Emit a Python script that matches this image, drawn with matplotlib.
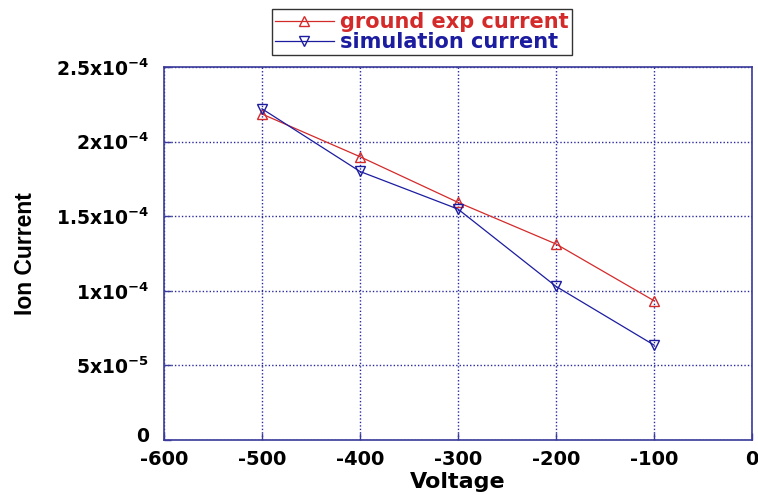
import matplotlib
matplotlib.use("Agg")
import matplotlib.pyplot as plt
import matplotlib.transforms as mtransforms
from matplotlib.ticker import FixedLocator, FixedFormatter

plt.rcParams['font.family'] = ['DejaVu Sans']
plt.rcParams['mathtext.fontset'] = 'dejavusans'

voltage = [-500, -400, -300, -200, -100]
ground_exp = [2.185e-4, 1.899e-4, 1.593e-4, 1.314e-4, 9.34e-5]
simulation = [2.22e-4, 1.80e-4, 1.548e-4, 1.03e-4, 6.37e-5]

xticks = [-600, -500, -400, -300, -200, -100, 0]
yticks = [0, 5e-5, 1e-4, 1.5e-4, 2e-4, 2.5e-4]
ytick_labels = ['0', r'$\mathbf{5x10^{-5}}$', r'$\mathbf{1x10^{-4}}$',
                r'$\mathbf{1.5x10^{-4}}$', r'$\mathbf{2x10^{-4}}$', r'$\mathbf{2.5x10^{-4}}$']

red = '#d42a2a'
blue = '#1c1ca0'
axis_col = '#3a3a9a'

fig = plt.figure(figsize=(7.58, 4.95), dpi=100)
ax = fig.add_axes([0.2164, 0.111, 0.7756, 0.7536])

l1, = ax.plot(voltage, ground_exp, color=red, lw=0.9, marker='^', ms=7,
              mfc='none', mec=red, mew=1.0, label='ground exp current')
l2, = ax.plot(voltage, simulation, color=blue, lw=0.9, marker='v', ms=7,
              mfc='none', mec=blue, mew=1.0, label='simulation current')

ax.set_xlim(-600, 0)
ax.set_ylim(0, 2.5e-4)
ax.xaxis.set_major_locator(FixedLocator(xticks))
ax.set_xticklabels([str(t) for t in xticks])
ax.yaxis.set_major_locator(FixedLocator(yticks))
ax.yaxis.set_major_formatter(FixedFormatter(ytick_labels))

ax.grid(True, color='#2a2aa0', linestyle=(0, (1, 1.5)), linewidth=1.0)
for s in ax.spines.values():
    s.set_color(axis_col)
    s.set_linewidth(1.2)
ax.tick_params(direction='in', length=5, color=axis_col, width=1.0,
               top=False, right=False)
ax.tick_params(axis='x', pad=7, labelsize=14)
ax.tick_params(axis='y', pad=11, labelsize=13.5)
for lab in ax.get_xticklabels() + ax.get_yticklabels():
    lab.set_fontweight('bold')

# nudge the "0" y tick label slightly upward, as in the reference
zero_lab = ax.yaxis.get_major_ticks()[0].label1
zero_lab.set_transform(zero_lab.get_transform() +
                       mtransforms.ScaledTranslation(0, 4 / 72, fig.dpi_scale_trans))

ax.set_xlabel('Voltage', fontsize=16, fontweight='bold', labelpad=2)
ax.set_ylabel('Ion Current', fontsize=16.5, fontweight='bold',
              family=['Liberation Sans Narrow', 'Liberation Sans'])
ax.yaxis.set_label_coords(-0.216, 0.5)

leg = fig.legend(handles=[l1, l2], loc='upper left', bbox_to_anchor=(0.359, 0.982),
                 frameon=True, fancybox=False, edgecolor='black',
                 handlelength=2.8, borderpad=0.15, labelspacing=0.0, handletextpad=0.3,
                 borderaxespad=0.0, prop={'weight': 'bold', 'size': 15})
leg.get_frame().set_linewidth(1.0)
for txt, c in zip(leg.get_texts(), [red, blue]):
    txt.set_color(c)

fig.savefig('out.png', dpi=100)
